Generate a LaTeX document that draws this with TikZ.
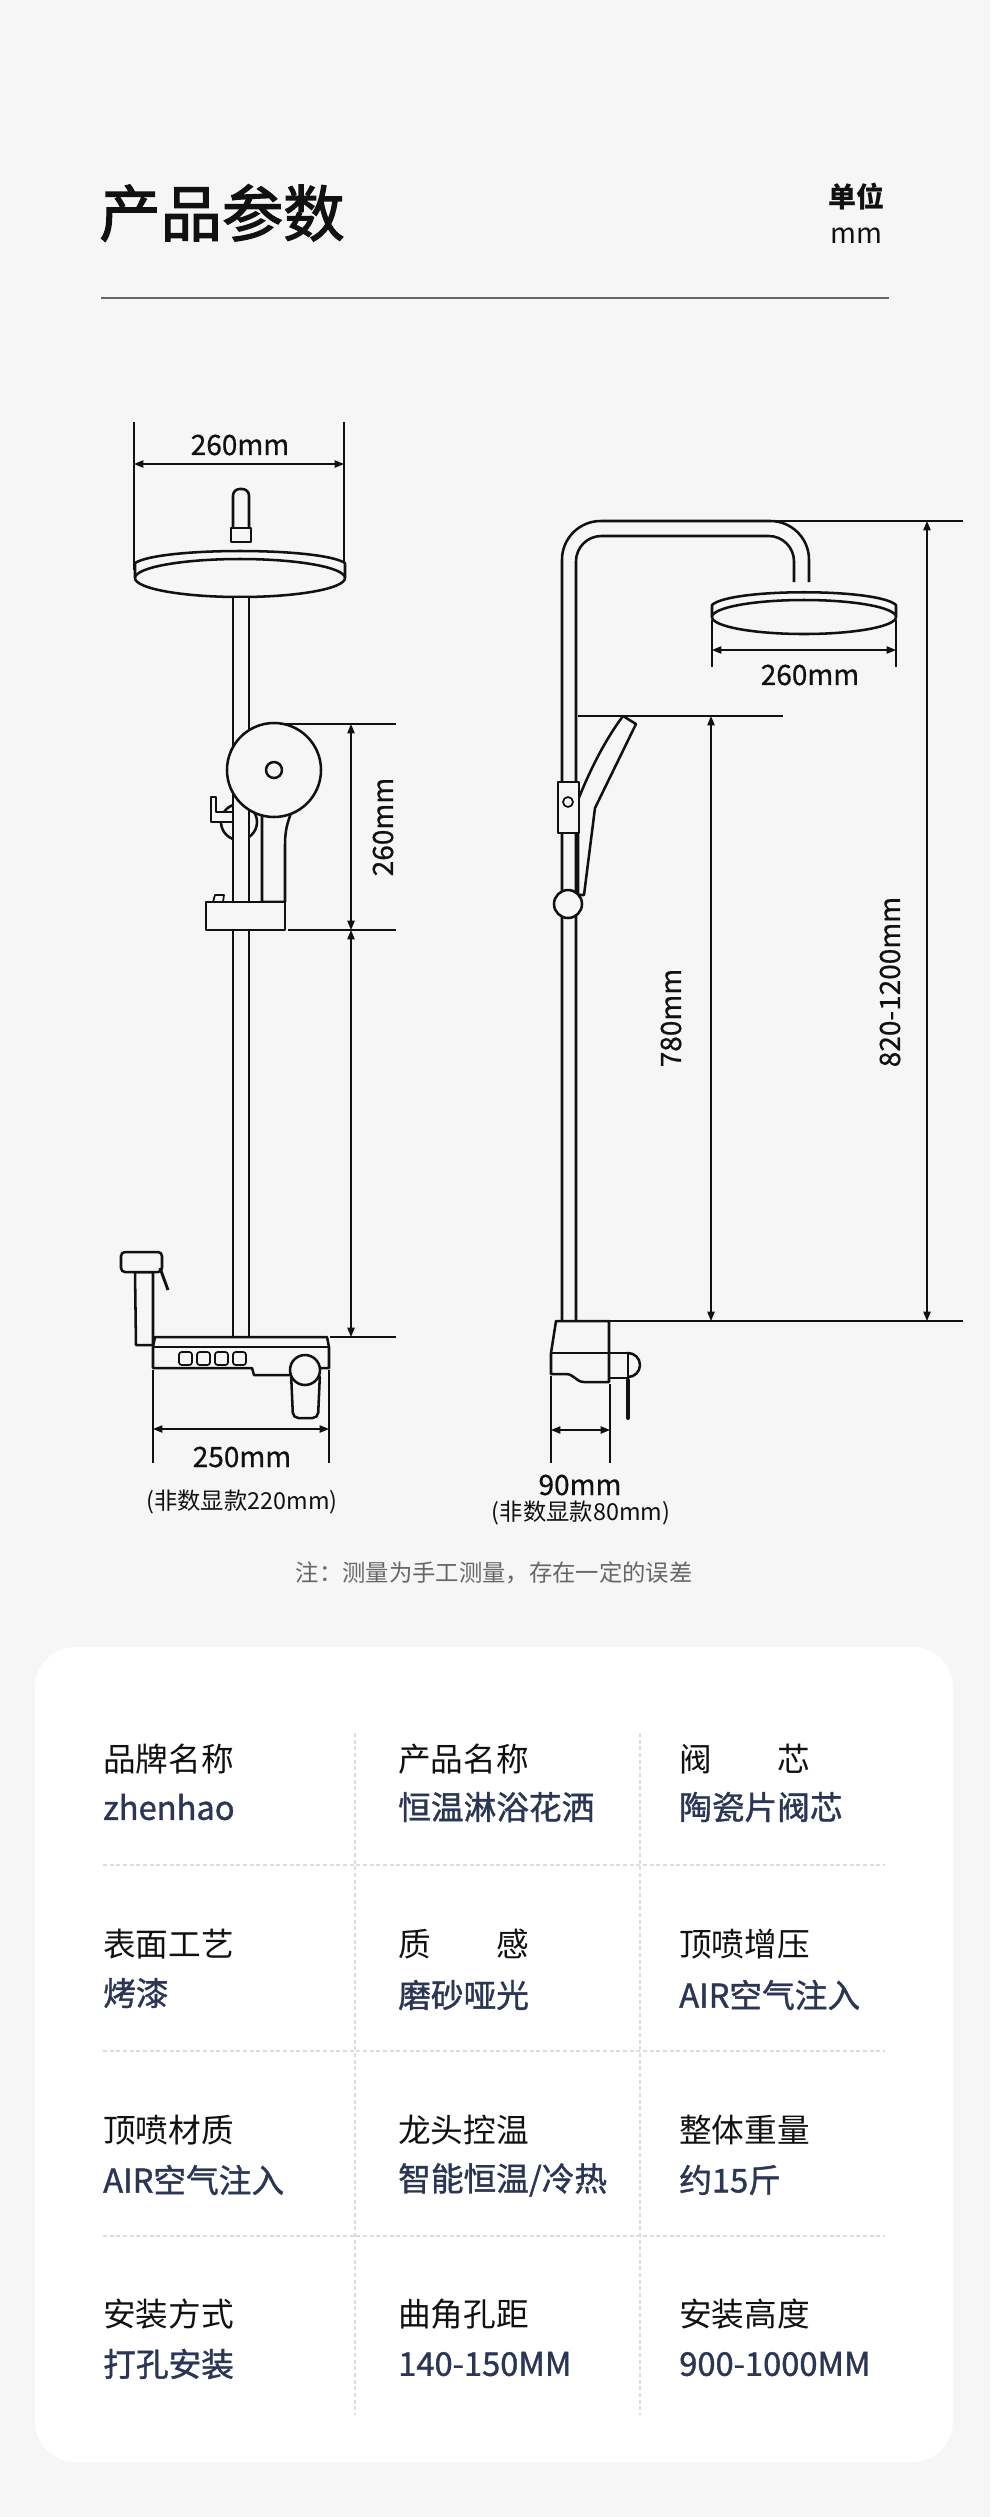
\documentclass[tikz,border=0pt]{standalone}
\usepackage{fontspec}
\setmainfont{Noto Sans CJK SC}
\newfontfamily\valfont[FakeBold=1.2]{Noto Sans CJK SC}
\newfontfamily\dimfont[FakeBold=0.6]{Noto Sans CJK SC}
\newfontfamily\ttlfont[FakeBold=2]{Noto Sans CJK SC}
\usetikzlibrary{arrows.meta}
\definecolor{bg}{HTML}{F6F6F6}
\definecolor{ink}{HTML}{111111}
\definecolor{navy}{HTML}{2B3655}
\definecolor{gr}{HTML}{666666}
\definecolor{dash}{HTML}{DDDDDD}
\begin{document}
\begin{tikzpicture}[x=0.75pt,y=-0.75pt,
  ol/.style={draw=ink,line width=1.9pt,line join=round},
  olf/.style={ol,fill=bg},
  dim/.style={draw=ink,line width=0.9pt},
  dima/.style={dim,{Triangle[length=7pt,width=5.5pt]}-{Triangle[length=7pt,width=5.5pt]}},
  dimt/.style={font=\fontsize{21}{22}\selectfont\dimfont,text=ink,inner sep=0pt},
  lab/.style={font=\fontsize{24.5}{26}\selectfont,text=ink,anchor=west,inner sep=0pt},
  val/.style={font=\fontsize{24.5}{26}\selectfont\valfont,text=navy,anchor=west,inner sep=0pt},
  sep/.style={draw=dash,line width=0.8pt,dash pattern=on 3pt off 2pt}]
\fill[bg] (0,0) rectangle (990,2517);
\useasboundingbox (0,0) rectangle (990,2517);
% header
\node[font=\fontsize{46}{48}\selectfont\ttlfont,text=ink,anchor=west,inner sep=0pt] (title) at (99,213) {产品参数};
\node[font=\fontsize{21}{23}\selectfont\bfseries,text=ink,inner sep=0pt] (unit1) at (856,197) {单位};
\node[font=\fontsize{21}{23}\selectfont,text=ink,inner sep=0pt] (unit2) at (856,236) {mm};
\draw[draw=gr,line width=1pt] (101,298) -- (889,298);

% ===== LEFT VIEW =====
\draw[dim] (134,422) -- (134,570); \draw[dim] (344,422) -- (344,570);
\draw[dima] (134,464) -- (344,464);
\node[dimt] (l260a) at (240,445) {260mm};
% top stub
\draw[olf,rounded corners=5pt] (233,541) -- (233,489) -- (249,489) -- (249,541);
\draw[olf] (231,528) rectangle (251,542);
% head
\draw[olf] (135,578) -- (135,563) .. controls (160,547) and (320,547) .. (345,563) -- (345,578);
\draw[olf] (240,578) ellipse [x radius=105, y radius=19];
% holder circle behind pipe
\draw[olf] (239,822) circle [radius=18];
% pipe
\draw[olf] (233,597) rectangle (249,1337);
\draw[olf] (211,797) -- (216,797) -- (216,812) -- (233,812) -- (233,822) -- (211,822) -- cycle;
% handle
\draw[olf] (262,790) -- (262,902) -- (285,902) -- (285,845) .. controls (285,825) and (290,815) .. (297,800) -- cycle;
\draw[olf] (274,770) circle [radius=47];
\draw[ol] (274,770) circle [radius=8];
% slider
\draw[ol,line width=1.3pt] (213,902) -- (215,895) -- (224,895) -- (223,902);
\draw[olf] (206,902) rectangle (285,930);
% 260 vertical dim
\draw[dim] (280,724) -- (396,724); \draw[dim] (288,930) -- (396,930); \draw[dim] (330,1337) -- (396,1337);
\draw[dima] (351,724) -- (351,930);
\draw[dima] (351,930) -- (351,1337);
\node[dimt,rotate=90] (l260b) at (383,827) {260mm};
% base left
\draw[olf] (135,1272) -- (136,1345) -- (153,1345) -- (153,1272) -- cycle;
\draw[olf,rounded corners=3pt] (121,1252) rectangle (162,1272);
\draw[ol,line width=2.2pt] (160,1268) -- (168,1290);
\draw[olf] (155,1337) -- (327,1337) -- (329,1347) -- (329,1368) -- (320,1368) -- (291,1375) -- (254,1375) -- (252,1368) -- (153,1368) -- (153,1347) -- cycle;
\draw[ol] (153,1347) -- (329,1347);
\foreach \i in {0,1,2,3}{\draw[ol,line width=1.3pt,rounded corners=2pt] (179+18*\i,1352) rectangle ++(13,13);}
\draw[olf,rounded corners=4pt] (291,1372) -- (293,1418) -- (318,1418) -- (320,1372) -- cycle;
\draw[olf] (305,1370) circle [radius=15];
\draw[dim] (153,1370) -- (153,1463); \draw[dim] (329,1370) -- (329,1463);
\draw[dima] (153,1429) -- (329,1429);
\node[dimt] (l250) at (242,1457) {250mm};
\node[font=\fontsize{17.5}{19}\selectfont,text=ink,inner sep=0pt] (l220) at (242,1502) {(非数显款220mm)};

% ===== RIGHT VIEW =====
\draw[ol,rounded corners=29pt] (562,1321) -- (562,521) -- (809,521) -- (809,582);
\draw[ol,rounded corners=19pt] (576,1321) -- (576,536) -- (794,536) -- (794,582);
\draw[olf] (712,617) -- (712,605) .. controls (730,588) and (878,588) .. (896,605) -- (896,617);
\draw[olf] (804,617) ellipse [x radius=92, y radius=17];
\draw[dim] (712,620) -- (712,667); \draw[dim] (896,620) -- (896,667);
\draw[dima] (712,650) -- (896,650);
\node[dimt] (r260) at (810,675) {260mm};
% hand shower
\draw[olf] (578,800) .. controls (590,770) and (605,740) .. (623,716) -- (636,724) -- (595,808) -- (584,895) -- (578,895) -- cycle;
\draw[olf] (558,782) rectangle (579,833);
\draw[ol,line width=1.3pt] (568,802) circle [radius=5];
\draw[olf] (568,904) circle [radius=14];
% dims
\draw[dim] (772,521) -- (963,521);
\draw[dim] (578,716) -- (783,716);
\draw[dim] (609,1321) -- (963,1321);
\draw[dima] (927,521) -- (927,1321);
\draw[dima] (711,716) -- (711,1321);
\node[dimt,rotate=90] (r820) at (890,982) {820-1200mm};
\node[dimt,rotate=90] (r780) at (671,1018) {780mm};
% base right
\draw[olf] (628,1365) circle [radius=12];
\draw[olf] (609,1353) rectangle (628,1378);
\draw[ol,line width=3pt,line cap=round] (628,1380) -- (628,1418);
\draw[olf] (556,1321) -- (609,1321) -- (609,1382) -- (584,1382) .. controls (576,1382) and (574,1374) .. (566,1374) -- (551,1374) -- (551,1353) -- cycle;
\draw[ol] (551,1353) -- (609,1353);
\draw[dim] (551,1376) -- (551,1463); \draw[dim] (610,1384) -- (610,1463);
\draw[dima] (551,1430) -- (610,1430);
\node[dimt] (r90) at (580,1485) {90mm};
\node[font=\fontsize{17.5}{19}\selectfont,text=ink,inner sep=0pt] (r80) at (581,1513) {(非数显款80mm)};

\node[font=\fontsize{17.5}{19}\selectfont,text=gr,inner sep=0pt] (note) at (494,1573) {注：测量为手工测量，存在一定的误差};

% ===== CARD =====
\fill[white,rounded corners=30pt] (35,1647) rectangle (953,2462);
\foreach \x in {355,640}{\draw[sep] (\x,1733) -- (\x,2415);}
\foreach \y in {1865,2051,2236}{\draw[sep] (103,\y) -- (885,\y);}
\node[lab] (a1) at (103,1759) {品牌名称};
\node[val] (a2) at (103,1807) {zhenhao};
\node[lab] (b1) at (398,1759) {产品名称};
\node[val] (b2) at (398,1807) {恒温淋浴花洒};
\node[lab] (c1) at (679,1759) {阀　　芯};
\node[val] (c2) at (679,1807) {陶瓷片阀芯};
\node[lab] (d1) at (103,1944) {表面工艺};
\node[val] (d2) at (103,1993) {烤漆};
\node[lab] (e1) at (398,1944) {质　　感};
\node[val] (e2) at (398,1995) {磨砂哑光};
\node[lab] (f1) at (679,1944) {顶喷增压};
\node[val] (f2) at (679,1995) {AIR空气注入};
\node[lab] (g1) at (103,2130) {顶喷材质};
\node[val] (g2) at (103,2180) {AIR空气注入};
\node[lab] (h1) at (398,2130) {龙头控温};
\node[val] (h2) at (398,2180) {智能恒温/冷热};
\node[lab] (i1) at (679,2130) {整体重量};
\node[val] (i2) at (679,2180) {约15斤};
\node[lab] (j1) at (103,2314) {安装方式};
\node[val] (j2) at (103,2364) {打孔安装};
\node[lab] (k1) at (398,2314) {曲角孔距};
\node[val] (k2) at (398,2364) {140-150MM};
\node[lab] (l1) at (679,2314) {安装高度};
\node[val] (l2) at (679,2364) {900-1000MM};
\end{tikzpicture}
\end{document}
